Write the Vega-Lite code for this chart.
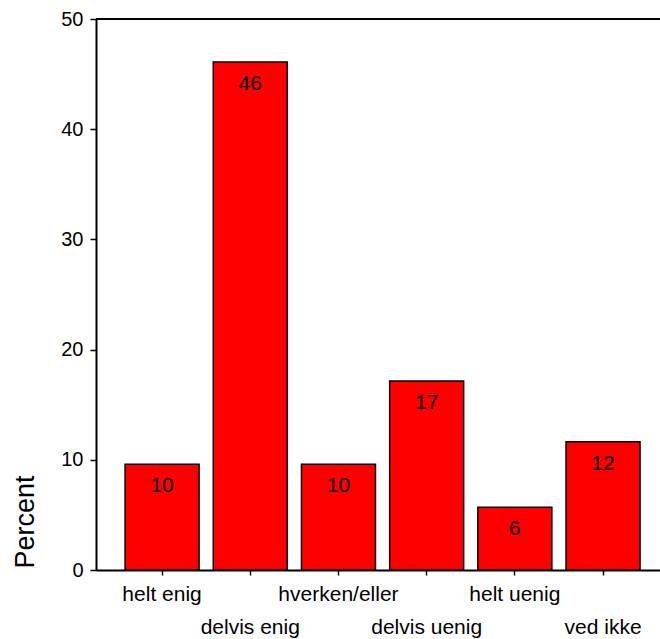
{
  "$schema": "https://vega.github.io/schema/vega-lite/v6.json",
  "width": 564,
  "height": 551,
  "autosize": {"type": "none"},
  "padding": {"left": 96, "top": 19, "right": 0, "bottom": 69},
  "background": "white",
  "config": {
    "view": {"stroke": null},
    "font": "Liberation Sans",
    "axis": {"domainColor": "black", "tickColor": "black", "labelColor": "black", "titleColor": "black", "grid": false, "domainWidth": 2, "tickWidth": 1.5, "labelFont": "Liberation Sans", "titleFont": "Liberation Sans", "titleFontWeight": "normal"}
  },
  "data": {
    "values": [
      {"svar": "helt enig", "pct": 9.6},
      {"svar": "delvis enig", "pct": 46.1},
      {"svar": "hverken/eller", "pct": 9.6},
      {"svar": "delvis uenig", "pct": 17.15},
      {"svar": "helt uenig", "pct": 5.7},
      {"svar": "ved ikke", "pct": 11.64}
    ]
  },
  "encoding": {
    "x": {
      "field": "svar",
      "type": "nominal",
      "sort": null,
      "scale": {"paddingInner": 0.161, "paddingOuter": 0.278, "align": 0.593},
      "axis": {
        "title": null,
        "labelAngle": 0,
        "labelFontSize": 21,
        "labelBaseline": "alphabetic",
        "labelPadding": 25,
        "tickSize": 5,
        "labelLineHeight": 33,
        "labelOverlap": false,
        "labelBound": false,
        "labelFlush": false,
        "labelExpr": "indexof(['delvis enig','delvis uenig','ved ikke'], datum.value) >= 0 ? ['', datum.label] : datum.label"
      }
    },
    "y": {
      "field": "pct",
      "type": "quantitative",
      "scale": {"domain": [0, 50], "nice": false},
      "axis": {
        "values": [0, 10, 20, 30, 40, 50],
        "title": "Percent",
        "titleFontSize": 27,
        "titleAngle": -90,
        "titleAlign": "left",
        "titleBaseline": "alphabetic",
        "titleX": -63,
        "titleY": 549,
        "labelFontSize": 20,
        "tickSize": 6,
        "labelPadding": 7
      }
    }
  },
  "layer": [
    {
      "mark": {"type": "bar", "fill": "#ff0000", "stroke": "black", "strokeWidth": 1.5}
    },
    {
      "mark": {"type": "text", "baseline": "alphabetic", "align": "center", "dy": 28, "fontSize": 21, "color": "black"},
      "encoding": {"text": {"field": "pct", "type": "quantitative", "format": ".0f"}}
    },
    {
      "mark": {"type": "rule", "color": "black", "strokeWidth": 2},
      "encoding": {"y": {"datum": 50}, "x": null}
    }
  ]
}
